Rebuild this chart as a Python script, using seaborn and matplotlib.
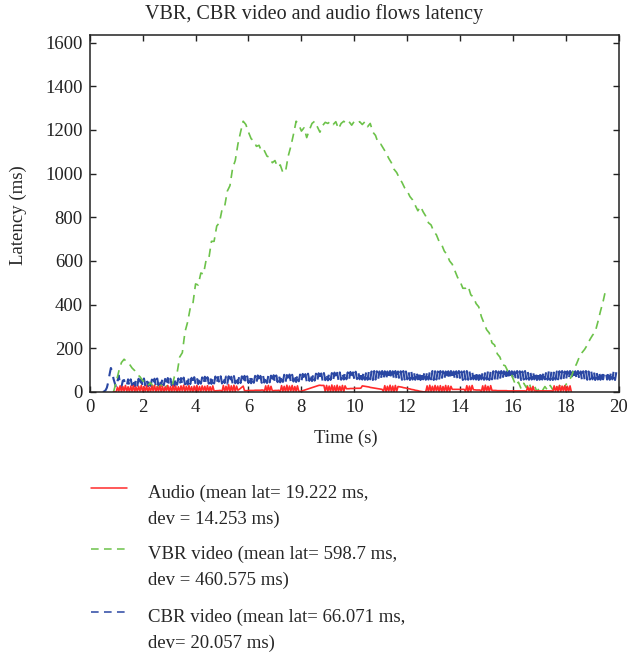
import numpy as np
import seaborn as sns
import matplotlib.pyplot as plt
from matplotlib.lines import Line2D

# VBR video latency (ms), sampled every 0.1 s from 0.9 s
vbr_start, vbr_step = 0.9, 0.1
vbr_ms = [0, 45, 95, 135, 150, 138, 128, 110, 98, 80,
          70, 52, 45, 30, 42, 25, 38, 18, 32, 12,
          28, 8, 20, 70, 85, 160, 180, 275, 320, 385,
          405, 495, 490, 545, 540, 605, 610, 690, 690, 760,
          775, 835, 850, 920, 945, 1025, 1060, 1135, 1190, 1240,
          1225, 1190, 1160, 1150, 1125, 1130, 1100, 1105, 1080, 1075,
          1050, 1060, 1030, 1040, 1005, 1010, 1080, 1125, 1180, 1240,
          1225, 1195, 1210, 1165, 1200, 1230, 1240, 1215, 1190, 1220,
          1235, 1230, 1240, 1225, 1238, 1205, 1230, 1240, 1228, 1238,
          1222, 1240, 1232, 1238, 1225, 1238, 1215, 1230, 1190, 1175,
          1140, 1135, 1115, 1095, 1070, 1050, 1020, 1005, 980, 960,
          935, 920, 895, 880, 855, 830, 850, 825, 805, 775,
          765, 735, 720, 690, 675, 645, 630, 600, 585, 555,
          525, 505, 475, 475, 485, 445, 435, 405, 390, 345,
          315, 285, 270, 225, 215, 175, 160, 125, 120, 95,
          92, 60, 30, 45, 15, 40, 20, 45, 5, 30,
          2, 20, 5, 25, 8, 30, 10, 35, 12, 40,
          15, 35, 50, 70, 105, 130, 160, 180, 195, 215,
          240, 260, 275, 320, 370, 415, 470]

# CBR video latency (ms), sampled every 0.05 s from 0.5 s
cbr_start, cbr_step = 0.5, 0.05
cbr_ms = [0, 3, 8, 20, 45, 80, 110, 95, 60, 40, 20, 50, 75, 30, 22, 52, 55, 26, 28, 58,
          26, 58, 30, 60, 25, 57, 29, 61, 27, 59, 24, 62, 30, 58, 26, 60, 28, 57, 31, 61,
          27, 62, 30, 59, 28, 63, 31, 60, 29, 64, 32, 61, 30, 63, 28, 65, 33, 62, 31, 64,
          33, 66, 35, 64, 34, 67, 36, 65, 35, 68, 37, 66, 36, 69, 38, 67, 37, 70, 36, 68,
          38, 70, 37, 68, 39, 71, 38, 69, 40, 72, 39, 70, 41, 71, 38, 72, 40, 70, 39, 73,
          40, 71, 39, 73, 41, 72, 40, 74, 42, 72, 41, 75, 40, 73, 42, 74, 41, 76, 43, 74,
          42, 75, 43, 74, 41, 76, 44, 75, 42, 77, 43, 76, 45, 78, 44, 77, 46, 79, 45, 78,
          46, 80, 47, 79, 48, 81, 46, 82, 49, 80, 48, 83, 50, 82, 49, 84, 51, 83, 50, 85,
          52, 84, 51, 86, 53, 85, 52, 87, 54, 86, 53, 88, 55, 87, 54, 89, 56, 88, 55, 90,
          56, 89, 57, 91, 58, 90, 56, 92, 58, 90, 57, 93, 59, 92, 58, 94, 57, 93, 56, 95,
          56, 95, 58, 94, 55, 96, 57, 95, 58, 94, 56, 96, 57, 95, 55, 94, 57, 96, 58, 95,
          57, 96, 55, 94, 58, 95, 56, 96, 57, 94, 58, 95, 55, 96, 57, 94, 56, 95, 58, 96,
          55, 94, 58, 96, 56, 95, 57, 94, 58, 96, 55, 95, 57, 94, 56, 96, 58, 95, 57, 94,
          57, 95, 55, 96, 58, 94, 56, 95, 57, 96, 58, 94, 55, 95, 57, 96, 56, 94, 58, 95,
          58, 94, 57, 95, 55, 96, 58, 94, 56, 95, 57, 96, 55, 94, 58, 95, 57, 96, 56, 94,
          56, 96, 58, 95, 57, 94, 55, 96, 58, 95, 56, 94, 57, 96, 58, 95, 55, 94, 57, 96,
          58, 95, 56, 94, 57, 96, 58, 95, 55, 94, 56, 96, 57, 95, 58, 94, 56, 96, 55, 95,
          55, 96, 57, 94, 58, 95, 56, 96, 57, 94, 55, 95, 58, 96, 56, 94, 57, 95, 58, 96,
          57, 94, 55, 95, 58, 96, 56, 94, 57, 95, 58, 96, 55, 94, 57, 95, 56, 96, 58, 94,
          92, 57, 95, 56, 94, 58, 96, 55, 93]

# Audio latency (ms), sampled every 0.05 s from 0.9 s
audio_start, audio_step = 0.9, 0.05
audio_ms = [0, 0,
            # burst 1.00 - 4.65
            0, 22, 3, 28, 1, 25, 4, 30, 2, 24, 0, 27, 3, 29, 1, 23, 2, 26, 4, 30,
            1, 25, 3, 28, 0, 22, 2, 27, 4, 31, 1, 24, 3, 28, 2, 26, 0, 23, 4, 30,
            2, 25, 1, 29, 3, 27, 0, 24, 2, 28, 4, 31, 1, 26, 3, 29, 2, 24, 0, 27,
            3, 30, 1, 25, 2, 28, 4, 26, 1, 29, 3, 24, 2, 28,
            5, 5, 6, 6, 7, 7,
            2, 30, 1, 26, 3, 33, 0, 28, 2, 31, 1, 27,
            8, 12, 17, 22, 27, 6, 6, 6, 7, 7, 7, 7, 7, 8, 8, 8, 8, 8, 9, 9,
            2, 28, 0, 30, 3, 26,
            6, 6, 7, 7, 7, 8,
            1, 29, 3, 26, 0, 31, 2, 27, 4, 30, 1, 25, 3, 28,
            3, 2, 4, 6, 8, 10, 12, 14, 16, 18, 20, 22, 24, 26, 28, 30, 31, 30, 30, 30,
            2, 30, 4, 27, 1, 32, 3, 28, 0, 31, 2, 26, 4, 30, 1, 28,
            15, 15, 15, 16, 16, 16, 16, 17, 17, 17, 17, 18, 28, 27, 26, 25, 24, 23, 21, 20,
            19, 18, 17, 16, 15, 14, 13, 12,
            3, 29, 1, 26, 4, 31, 2, 27, 0, 30, 3, 25,
            24, 23, 22, 20, 19, 18, 16, 15, 14, 12, 11, 10, 8, 7, 6, 4, 3, 2, 1, 0,
            2, 28, 0, 31, 3, 26, 1, 30, 4, 27, 2, 29, 0, 25, 3, 30, 1, 28, 2, 26,
            12, 12, 12, 12, 12, 12, 12, 12, 12, 12,
            3, 29, 1, 27, 2, 30,
            10, 10, 9, 9, 9, 9,
            2, 28, 0, 31, 3, 26, 1, 29,
            7, 7, 7, 7, 6, 6, 6, 6, 6, 6, 6, 6, 5, 5, 5, 5, 5, 5, 5, 5,
            5, 5, 5, 5, 5, 5,
            2, 24, 5, 20, 1, 26,
            5, 5, 5, 5, 5, 5, 5, 5, 5, 5, 5, 5, 5, 5,
            1, 28, 3, 25, 0, 30, 2, 27, 4, 29, 1, 26, 3, 28, 0]

labels = ["Audio (mean lat= 19.222 ms,\ndev = 14.253 ms)",
          "VBR video (mean lat= 598.7 ms,\ndev = 460.575 ms)",
          "CBR video (mean lat= 66.071 ms,\ndev= 20.057 ms)"]
colors = ["#ff2b2b", "#6cc24a", "#2a47a3"]

sns.set_theme(style="ticks")
plt.rcParams['font.family'] = ['Liberation Serif', 'DejaVu Serif']
fs = 13.5

fig = plt.figure(figsize=(6.29, 6.53), dpi=100)
ax = fig.add_axes([0.1426, 0.3997, 0.8415, 0.5467])

t_cbr = cbr_start + cbr_step * np.arange(len(cbr_ms))
t_vbr = vbr_start + vbr_step * np.arange(len(vbr_ms))
t_aud = audio_start + audio_step * np.arange(len(audio_ms))

dash = (0, (5, 3.5))
sns.lineplot(x=t_cbr, y=cbr_ms, ax=ax, color=colors[2], lw=1.5, estimator=None, sort=False)
ax.lines[-1].set_linestyle(dash)
sns.lineplot(x=t_vbr, y=vbr_ms, ax=ax, color=colors[1], lw=1.2, estimator=None, sort=False)
ax.lines[-1].set_linestyle(dash)
sns.lineplot(x=t_aud, y=audio_ms, ax=ax, color=colors[0], lw=1.2, estimator=None, sort=False)

ax.set_xlim(0, 20)
ax.set_ylim(0, 1635)
ax.set_xticks(np.arange(0, 21, 2))
ax.set_yticks(np.arange(0, 1601, 200))
ax.tick_params(direction="in", top=True, right=True, length=4, width=1,
               labelsize=fs, colors="#222222", pad=5)
for s in ax.spines.values():
    s.set_linewidth(1.1)
    s.set_color("#222222")
ax.set_xlabel("")
ax.set_ylabel("")

fig.text(0.5, 0.979, "VBR, CBR video and audio flows latency", ha="center", va="center", fontsize=14.5)
fig.text(0.55, 0.329, "Time (s)", ha="center", va="center", fontsize=fs)
fig.text(0.029, 0.67, "Latency (ms)", ha="center", va="center", rotation=90, fontsize=fs)

# legend below the plot, handle aligned with the first text line
row_y = [488, 549, 612]
styles = ["-", dash, dash]
for y, lab, c, st in zip(row_y, labels, colors, styles):
    yf = 1 - y / 653
    fig.add_artist(Line2D([91 / 629, 127 / 629], [yf, yf], color=c, lw=1.1, linestyle=st))
    fig.text(148 / 629, 1 - (y - 3) / 653, lab, ha="left", va="top", fontsize=fs, linespacing=1.6)

fig.savefig("out.png", dpi=100)
